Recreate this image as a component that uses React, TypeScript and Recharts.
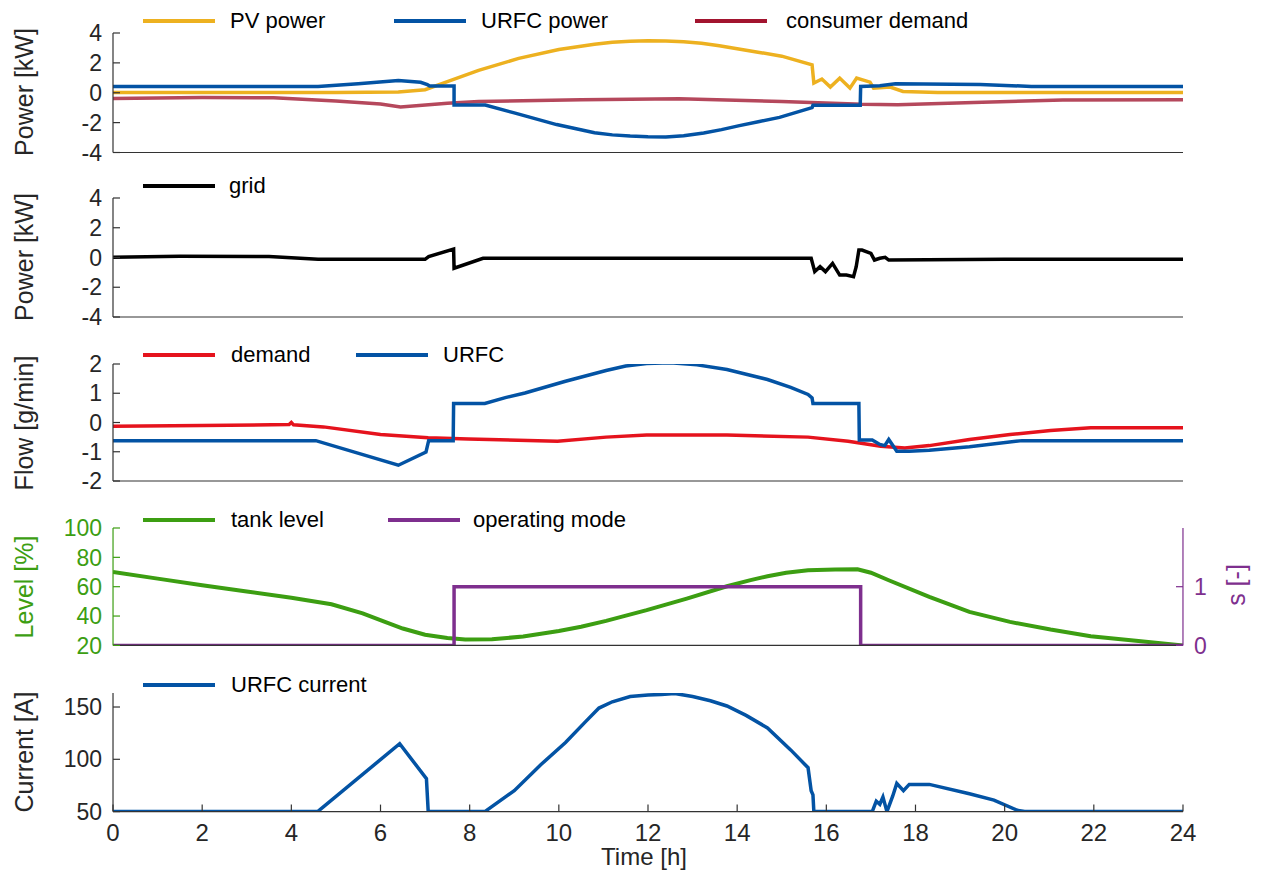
import React from "react";
import { LineChart, Line, XAxis, YAxis } from "recharts";

type Pt = [number, number];

// ---- axes ----
const hours = [0, 2, 4, 6, 8, 10, 12, 14, 16, 18, 20, 22, 24];
const powerTicks = [-4, -2, 0, 2, 4];
const flowTicks = [-2, -1, 0, 1, 2];
const levelTicks = [20, 40, 60, 80, 100];
const modeTicks = [0, 1];
const currentTicks = [50, 100, 150];

// ---- panel 1: power [kW] ----
const pvPower: Pt[] = [
  [0, 0.02], [5, 0.02], [6.4, 0.05], [7.0, 0.2], [7.5, 0.75], [8.2, 1.5], [9.1, 2.3],
  [10.0, 2.9], [10.8, 3.25], [11.2, 3.38], [11.6, 3.45], [12.0, 3.48], [12.4, 3.47],
  [12.8, 3.42], [13.2, 3.32], [13.6, 3.15], [14.0, 2.95], [14.5, 2.7], [15.0, 2.45],
  [15.68, 1.87], [15.72, 0.65], [15.9, 0.92], [16.09, 0.38], [16.3, 0.98], [16.53, 0.31],
  [16.68, 0.98], [16.98, 0.71], [17.06, 0.31], [17.43, 0.38], [17.72, 0.09], [18.5, 0.02],
  [24, 0.02],
];
const urfcPower: Pt[] = [
  [0, 0.42], [4.6, 0.42], [5.5, 0.6], [6.4, 0.82], [6.9, 0.7], [7.05, 0.55], [7.1, 0.45],
  [7.65, 0.45], [7.65, -0.82], [8.35, -0.82], [9.0, -1.35], [9.95, -2.13], [10.8, -2.68],
  [11.2, -2.82], [11.6, -2.9], [12.0, -2.95], [12.4, -2.96], [12.8, -2.88], [13.25, -2.7],
  [13.65, -2.47], [14.05, -2.2], [14.5, -1.92], [14.95, -1.65], [15.68, -1.0], [15.7, -0.84],
  [16.76, -0.84], [16.77, 0.42], [17.2, 0.47], [17.55, 0.6], [19.45, 0.56], [20.6, 0.42],
  [24, 0.42],
];
const consumerDemand: Pt[] = [
  [0, -0.38], [2, -0.32], [3.6, -0.33], [5, -0.55], [6, -0.75], [6.45, -0.95], [7.5, -0.7],
  [8.2, -0.58], [10.5, -0.47], [12.7, -0.4], [15, -0.58], [16.8, -0.77], [17.6, -0.8],
  [19.5, -0.64], [21.3, -0.48], [24, -0.47],
];

// ---- panel 2: grid [kW] ----
const gridPower: Pt[] = [
  [0, 0.02], [1.5, 0.08], [3.5, 0.06], [4.6, -0.12], [7.0, -0.12], [7.08, 0.06], [7.64, 0.57],
  [7.65, -0.72], [8.3, -0.05], [15.66, -0.05], [15.74, -0.95], [15.86, -0.62], [15.98, -0.95],
  [16.14, -0.4], [16.3, -1.18], [16.45, -1.18], [16.61, -1.29], [16.67, -0.62], [16.73, 0.5],
  [16.8, 0.5], [17.0, 0.28], [17.08, -0.17], [17.2, -0.05], [17.32, 0.01], [17.4, -0.17],
  [20, -0.12], [24, -0.12],
];

// ---- panel 3: flow [g/min] ----
const flowDemand: Pt[] = [
  [0, -0.13], [2, -0.1], [3.95, -0.07], [4.0, 0.0], [4.05, -0.08], [4.72, -0.15], [6, -0.41],
  [7.07, -0.52], [7.97, -0.56], [9.97, -0.64], [11.06, -0.5], [11.97, -0.43], [13.77, -0.43],
  [15.59, -0.5], [16.49, -0.64], [17.22, -0.81], [17.76, -0.87], [18.31, -0.79], [19.21, -0.58],
  [20.12, -0.41], [21.03, -0.27], [21.93, -0.18], [24, -0.18],
];
const flowUrfc: Pt[] = [
  [0, -0.62], [4.55, -0.62], [6.4, -1.46], [7.02, -1.01], [7.08, -0.62], [7.63, -0.62],
  [7.64, 0.65], [8.34, 0.65], [8.8, 0.85], [9.24, 1.01], [10.15, 1.41], [11.06, 1.78],
  [11.5, 1.93], [11.97, 2.02], [12.5, 2.04], [13.1, 1.97], [13.77, 1.81], [14.68, 1.47],
  [15.2, 1.2], [15.59, 0.96], [15.68, 0.84], [15.7, 0.65], [16.73, 0.65], [16.74, -0.6],
  [17.03, -0.6], [17.2, -0.75], [17.31, -0.79], [17.4, -0.58], [17.5, -0.8], [17.58, -0.98],
  [17.86, -0.98], [18.31, -0.95], [19.21, -0.83], [20.39, -0.62], [24, -0.62],
];

// ---- panel 4: tank level [%] and operating mode [-] ----
const tankLevel: Pt[] = [
  [0, 70], [1, 65.5], [2, 61], [3, 56.7], [4, 52.5], [4.9, 48], [5.6, 41.8], [6.1, 36],
  [6.5, 31.5], [7, 27.3], [7.5, 25], [7.9, 24], [8.5, 24.2], [9.2, 26], [10, 29.8],
  [10.5, 32.7], [11.06, 36.7], [11.97, 44], [12.87, 51.9], [13.77, 60.3], [14.3, 64.5],
  [14.68, 67.1], [15.1, 69.5], [15.59, 71.2], [16.2, 71.8], [16.7, 71.9], [17.0, 69.5],
  [17.4, 64.4], [18.31, 53], [19.21, 42.8], [20.12, 36], [21.03, 30.8], [21.93, 26.3],
  [23, 23], [24, 20],
];
const operatingMode: Pt[] = [
  [0, 0], [7.65, 0], [7.65, 1], [16.77, 1], [16.77, 0], [24, 0],
];

// ---- panel 5: URFC current [A] ----
const urfcCurrent: Pt[] = [
  [0, 50], [4.59, 50], [6.43, 114.9], [7.03, 81.5], [7.07, 50], [8.34, 50], [9.0, 70],
  [9.6, 95], [10.15, 116], [10.6, 136], [10.9, 149], [11.2, 155], [11.6, 160], [12.0, 161.5],
  [12.3, 162], [12.6, 163], [13.0, 160], [13.4, 156], [13.77, 151], [14.2, 142], [14.68, 130],
  [15.2, 109], [15.59, 92], [15.66, 70], [15.7, 66], [15.72, 50], [17.03, 50], [17.12, 60],
  [17.2, 57], [17.27, 64], [17.36, 50], [17.49, 65], [17.58, 77], [17.73, 70], [17.86, 76],
  [18.31, 76], [19.21, 67], [19.76, 61], [20.3, 51], [20.45, 50], [24, 50],
];

const rows = (pts: Pt[]) => pts.map(([t, v]) => ({ t, v }));

// ---- style ----
const FONT = "'Liberation Sans', Arial, Helvetica, sans-serif";
const AX = "#333333";
const TXT = "#262626";
const C_PV = "#EDB120";
const C_BLUE = "#0353A4";
const C_CONS = "#A2142F";
const C_CONS_LINE = "#B5485C";
const C_RED = "#E5131D";
const C_GREEN = "#3C9E12";
const C_PURPLE = "#7E2F8E";

const W = 1267;
const X0 = 113;
const X1 = 1183;
const PAD = 30;
const BOT = 22;

const tickStyle = (fill: string) => ({ fontSize: 23, fill, fontFamily: FONT });

function xAxisPlain() {
  return (
    <XAxis
      type="number"
      dataKey="t"
      domain={[0, 24]}
      ticks={hours}
      interval={0}
      tick={false}
      tickSize={-7}
      height={5}
      allowDataOverflow
      axisLine={{ stroke: AX, strokeWidth: 1.2 }}
      tickLine={{ stroke: AX, strokeWidth: 1.2 }}
    />
  );
}

function Legend({ y, names, colors, lineX, textX }: { y: number; names: string[]; colors: string[]; lineX: number[]; textX: number[] }) {
  return (
    <>
      {names.map((n, i) => (
        <React.Fragment key={n}>
          <div style={{ position: "absolute", left: lineX[i], top: y - 2, width: 72, height: 4, background: colors[i] }} />
          <div style={{ position: "absolute", left: textX[i], top: y - 12, fontSize: 22, lineHeight: "24px", color: "#000", whiteSpace: "nowrap" }}>{n}</div>
        </React.Fragment>
      ))}
    </>
  );
}

function YLabel({ text, cx, cy, color }: { text: string; cx: number; cy: number; color: string }) {
  return (
    <div
      style={{
        position: "absolute",
        left: cx,
        top: cy,
        transform: "translate(-50%, -50%) rotate(-90deg)",
        fontSize: 25,
        lineHeight: 1,
        color,
        whiteSpace: "nowrap",
      }}
    >
      {text}
    </div>
  );
}

function Panel({ top, bottom, xh, right, children }: { top: number; bottom: number; xh: number; right?: number; children: React.ReactNode }) {
  const h = PAD + (bottom - top) + xh + BOT;
  return (
    <div style={{ position: "absolute", left: 0, top: top - PAD }}>
      <LineChart width={W} height={h} margin={{ top: PAD, right: right ?? W - X1, bottom: BOT, left: 0 }}>
        {children}
      </LineChart>
    </div>
  );
}

const yAxisCommon = {
  type: "number" as const,
  interval: 0 as const,
  tickSize: -7,
  tickMargin: 18,
  allowDataOverflow: true,
};

export default function App() {
  return (
    <div style={{ position: "absolute", left: 0, top: 0, width: W, height: 873, background: "#fff", fontFamily: FONT, overflow: "hidden" }}>
      {/* panel 1 */}
      <Panel top={33} bottom={152.5} xh={5}>
        {xAxisPlain()}
        <YAxis {...yAxisCommon} width={X0} domain={[-4, 4]} ticks={powerTicks} tick={tickStyle(TXT)} axisLine={{ stroke: AX, strokeWidth: 1.2 }} tickLine={{ stroke: AX, strokeWidth: 1.2 }} />
        <Line data={rows(consumerDemand)} dataKey="v" stroke={C_CONS_LINE} strokeWidth={3.5} dot={false} isAnimationActive={false} />
        <Line data={rows(pvPower)} dataKey="v" stroke={C_PV} strokeWidth={3.5} dot={false} isAnimationActive={false} />
        <Line data={rows(urfcPower)} dataKey="v" stroke={C_BLUE} strokeWidth={3.5} dot={false} isAnimationActive={false} />
      </Panel>

      {/* panel 2 */}
      <Panel top={198} bottom={317} xh={5}>
        {xAxisPlain()}
        <YAxis {...yAxisCommon} width={X0} domain={[-4, 4]} ticks={powerTicks} tick={tickStyle(TXT)} axisLine={{ stroke: AX, strokeWidth: 1.2 }} tickLine={{ stroke: AX, strokeWidth: 1.2 }} />
        <Line data={rows(gridPower)} dataKey="v" stroke="#000" strokeWidth={3.5} dot={false} isAnimationActive={false} />
      </Panel>

      {/* panel 3 */}
      <Panel top={364.3} bottom={481.3} xh={5}>
        {xAxisPlain()}
        <YAxis {...yAxisCommon} width={X0} domain={[-2, 2]} ticks={flowTicks} tick={tickStyle(TXT)} axisLine={{ stroke: AX, strokeWidth: 1.2 }} tickLine={{ stroke: AX, strokeWidth: 1.2 }} />
        <Line data={rows(flowDemand)} dataKey="v" stroke={C_RED} strokeWidth={3.5} dot={false} isAnimationActive={false} />
        <Line data={rows(flowUrfc)} dataKey="v" stroke={C_BLUE} strokeWidth={3.5} dot={false} isAnimationActive={false} />
      </Panel>

      {/* panel 4 */}
      <Panel top={528.3} bottom={645.7} xh={5} right={W - X1 - 40}>
        {xAxisPlain()}
        <YAxis {...yAxisCommon} yAxisId="level" width={X0} domain={[20, 100]} ticks={levelTicks} tick={tickStyle(C_GREEN)} axisLine={{ stroke: C_GREEN, strokeWidth: 1.2 }} tickLine={{ stroke: C_GREEN, strokeWidth: 1.2 }} />
        <YAxis {...yAxisCommon} yAxisId="mode" orientation="right" width={40} domain={[0, 2]} ticks={modeTicks} tick={tickStyle(C_PURPLE)} axisLine={{ stroke: C_PURPLE, strokeWidth: 1.2 }} tickLine={{ stroke: C_PURPLE, strokeWidth: 1.2 }} />
        <Line yAxisId="level" data={rows(tankLevel)} dataKey="v" stroke={C_GREEN} strokeWidth={4} dot={false} isAnimationActive={false} />
        <Line yAxisId="mode" data={rows(operatingMode)} dataKey="v" stroke={C_PURPLE} strokeWidth={3.5} dot={false} isAnimationActive={false} />
      </Panel>

      {/* panel 5 */}
      <Panel top={692.7} bottom={811.3} xh={40}>
        <XAxis
          type="number"
          dataKey="t"
          domain={[0, 24]}
          ticks={hours}
          interval={0}
          tickSize={-7}
          tickMargin={19}
          height={40}
          allowDataOverflow
          tick={{ fontSize: 24, fill: TXT, fontFamily: FONT }}
          axisLine={{ stroke: AX, strokeWidth: 1.2 }}
          tickLine={{ stroke: AX, strokeWidth: 1.2 }}
        />
        <YAxis {...yAxisCommon} width={X0} domain={[50, 163.4]} ticks={currentTicks} tick={tickStyle(TXT)} axisLine={{ stroke: AX, strokeWidth: 1.2 }} tickLine={{ stroke: AX, strokeWidth: 1.2 }} />
        <Line data={rows(urfcCurrent)} dataKey="v" stroke={C_BLUE} strokeWidth={3.5} dot={false} isAnimationActive={false} />
      </Panel>

      {/* legends */}
      <Legend y={21} names={["PV power", "URFC power", "consumer demand"]} colors={[C_PV, C_BLUE, C_CONS]} lineX={[143, 394, 695]} textX={[230, 481, 786]} />
      <Legend y={186} names={["grid"]} colors={["#000"]} lineX={[143]} textX={[229]} />
      <Legend y={355} names={["demand", "URFC"]} colors={[C_RED, C_BLUE]} lineX={[143, 356]} textX={[231, 443]} />
      <Legend y={520} names={["tank level", "operating mode"]} colors={[C_GREEN, C_PURPLE]} lineX={[143, 388]} textX={[231, 473]} />
      <Legend y={685} names={["URFC current"]} colors={[C_BLUE]} lineX={[143]} textX={[231]} />

      {/* axis titles */}
      <YLabel text="Power [kW]" cx={24} cy={92} color={TXT} />
      <YLabel text="Power [kW]" cx={24} cy={257} color={TXT} />
      <YLabel text="Flow [g/min]" cx={24} cy={423} color={TXT} />
      <YLabel text="Level [%]" cx={24} cy={587} color={C_GREEN} />
      <YLabel text="s [-]" cx={1236} cy={585} color={C_PURPLE} />
      <YLabel text="Current [A]" cx={24} cy={752} color={TXT} />
      <div style={{ position: "absolute", left: 644, top: 857, transform: "translate(-50%, -50%)", fontSize: 24, lineHeight: 1, color: TXT, whiteSpace: "nowrap" }}>Time [h]</div>
    </div>
  );
}
